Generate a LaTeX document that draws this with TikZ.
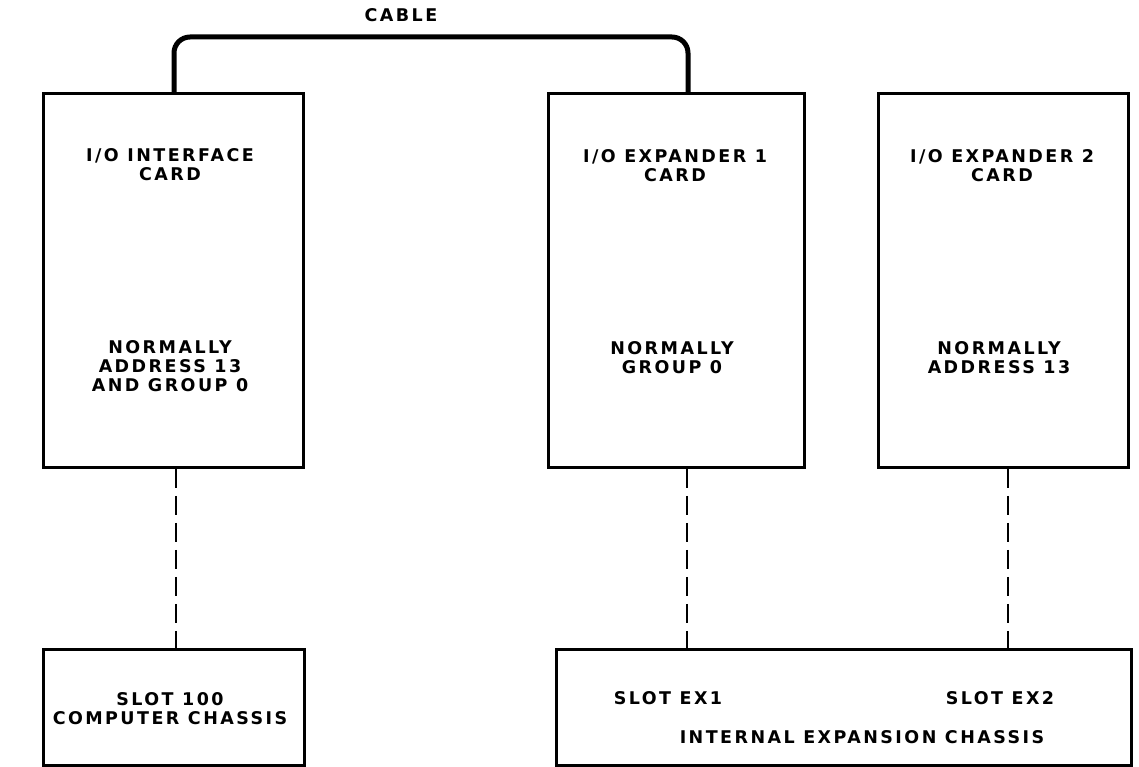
\documentclass[tikz,border=0pt]{standalone}
\usepackage{fontspec}
\setmainfont{DejaVu Sans}[LetterSpace=14]
\begin{document}
\begin{tikzpicture}[x=1pt,y=-1pt,
  box/.style={draw, line width=2.8pt, anchor=north west, inner sep=0pt},
  lbl/.style={font=\bfseries\fontsize{17.5}{19}\selectfont, align=center, inner sep=0pt},
  cable/.style={line width=5pt, rounded corners=16pt},
  conn/.style={line width=1.6pt, dash pattern=on 19pt off 8pt}]
\useasboundingbox (0,0) rectangle (1139,767);
\node[box, minimum width=260pt, minimum height=374pt] (ioi) at (42,92) {};
\node[box, minimum width=256pt, minimum height=374pt] (ex1) at (547,92) {};
\node[box, minimum width=250pt, minimum height=374pt] (ex2) at (877,92) {};
\node[box, minimum width=261pt, minimum height=116pt] (s100) at (42,648) {};
\node[box, minimum width=575pt, minimum height=116pt] (iec) at (555,648) {};
% texts
\node[lbl] (t1) at (170,165) {I/O INTERFACE\\CARD};
\node[lbl] (t2) at (170,366) {NORMALLY\\ADDRESS 13\\AND GROUP 0};
\node[lbl] (t3) at (675,166) {I/O EXPANDER 1\\CARD};
\node[lbl] (t4) at (672,358) {NORMALLY\\GROUP 0};
\node[lbl] (t5) at (1002,166) {I/O EXPANDER 2\\CARD};
\node[lbl] (t6) at (999,358) {NORMALLY\\ADDRESS 13};
\node[lbl] (t7) at (170,709) {SLOT 100\\COMPUTER CHASSIS};
\node[lbl] (t8) at (668,698) {SLOT EX1};
\node[lbl] (t9) at (1000,698) {SLOT EX2};
\node[lbl] (t10) at (862,737) {INTERNAL EXPANSION CHASSIS};
\node[lbl] (cbl) at (401,15) {CABLE};
% cable
\coordinate (ca) at (174,92);
\coordinate (cb) at (688,92);
\coordinate (ctop) at (0,37);
\draw[cable] (ca) -- (ca |- ctop) -- (cb |- ctop) -- (cb);
% dashed connectors
\coordinate (d1) at (176,0);
\coordinate (d2) at (687,0);
\coordinate (d3) at (1008,0);
\draw[conn] (ioi.south -| d1) -- (s100.north -| d1);
\draw[conn] (ex1.south -| d2) -- (iec.north -| d2);
\draw[conn] (ex2.south -| d3) -- (iec.north -| d3);
\end{tikzpicture}
\end{document}
